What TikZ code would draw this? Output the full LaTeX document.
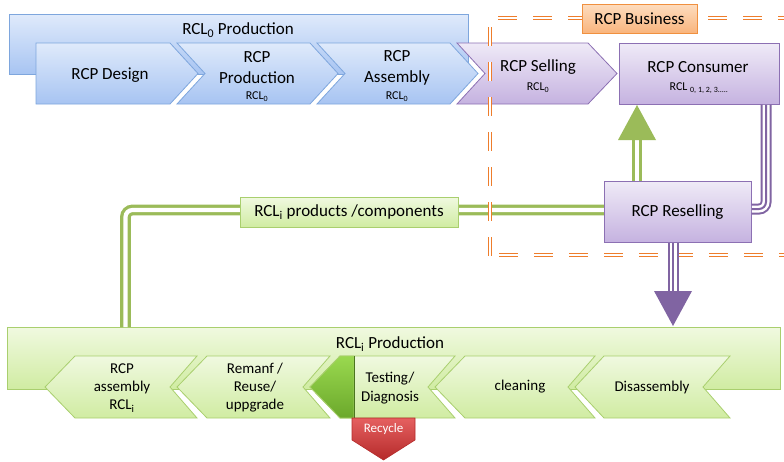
\documentclass[tikz,border=0pt]{standalone}
\usepackage{fontspec}
\setmainfont{Carlito}
\definecolor{blueT}{HTML}{DFEAFB}
\definecolor{blueBot}{HTML}{A7C4F2}
\definecolor{blueLine}{HTML}{7EA6DD}
\definecolor{purT}{HTML}{EFEAF7}
\definecolor{purBot}{HTML}{C5B2E0}
\definecolor{purLine}{HTML}{8C70B3}
\definecolor{purDark}{HTML}{8064A2}
\definecolor{grnT}{HTML}{F0F9E0}
\definecolor{grnBot}{HTML}{D0ECA2}
\definecolor{grnLine}{HTML}{A9CF6E}
\definecolor{grnDark}{HTML}{9BBB59}
\definecolor{wedgeT}{HTML}{9AD94F}
\definecolor{wedgeBot}{HTML}{6BA82B}
\definecolor{orT}{HTML}{FDDCBE}
\definecolor{orBot}{HTML}{F9B47C}
\definecolor{orLine}{HTML}{F0903F}
\definecolor{orDash}{HTML}{EE7D2C}
\definecolor{redT}{HTML}{E56060}
\definecolor{redBot}{HTML}{B52A2A}
\tikzset{
  bluebox/.style={draw=blueLine, line width=0.8pt, top color=blueT, bottom color=blueBot},
  purbox/.style={draw=purLine, line width=0.8pt, top color=purT, bottom color=purBot},
  grnbox/.style={draw=grnLine, line width=0.8pt, top color=grnT, bottom color=grnBot},
  orbox/.style={draw=orLine, line width=0.8pt, top color=orT, bottom color=orBot},
  big/.style={font=\fontsize{17}{20}\selectfont, inner sep=0pt, align=center},
  mid/.style={font=\fontsize{15}{17.5}\selectfont, inner sep=0pt, align=center},
  small/.style={font=\fontsize{12}{14}\selectfont, inner sep=0pt},
  odash/.style={draw=orDash, line width=1.1pt, double=white, double distance=2pt, dash pattern=on 19pt off 16pt},
  gline/.style={draw=grnDark, line width=3.3pt, double=white, double distance=4.2pt},
  plineA/.style={draw=purDark, line width=11pt},
  plineB/.style={draw=white, line width=7pt},
  plineC/.style={draw=purDark, line width=2pt},
}
\begin{document}
\begin{tikzpicture}[x=1pt,y=-1pt]
\useasboundingbox (0,0) rectangle (784,461);

% ---------- RCL0 production ----------
\node[bluebox, minimum width=459pt, minimum height=60pt, anchor=north west, inner sep=0pt] (rcl0box) at (9,14) {};
\node[big] (rcl0t) at (238,30) {RCL\textsubscript{0} Production};

\path[bluebox] (36,43) -- (170,43) -- (198,73.5) -- (170,104) -- (36,104) -- cycle;
\node[big] (design) at (110,75) {RCP Design};

\path[bluebox] (177,43) -- (310,43) -- (338,73.5) -- (310,104) -- (177,104) -- (205,73.5) -- cycle;
\node[big] (prod) at (257,67.5) {RCP\\[1pt]Production};
\node[small] (prodsub) at (257,97) {RCL\textsubscript{0}};

\path[bluebox] (317,43) -- (450,43) -- (478,73.5) -- (450,104) -- (317,104) -- (345,73.5) -- cycle;
\node[big] (assem) at (397,67.5) {RCP\\[1pt]Assembly};
\node[small] (assemsub) at (397,97) {RCL\textsubscript{0}};

\path[purbox] (457,43) -- (588,43) -- (617,73.5) -- (588,104) -- (457,104) -- (485,73.5) -- cycle;
\node[big] (sell) at (538,67) {RCP Selling};
\node[small] (sellsub) at (538,88) {RCL\textsubscript{0}};

\node[purbox, minimum width=160pt, minimum height=61pt, anchor=north west, inner sep=0pt] (cons) at (619,43) {};
\node[big] (const) at (698,67) {RCP Consumer};
\node[small] (conssub) at (699,88) {RCL \textsubscript{0, 1, 2, 3.....}};

% ---------- green connector ----------
\node[purbox, minimum width=147pt, minimum height=61pt, anchor=north west, inner sep=0pt] (resell) at (604,181) {};
\coordinate (gx) at (125.5,0);
\coordinate (gy) at (0,210);
\node[grnbox, minimum width=773pt, minimum height=62pt, anchor=north west, inner sep=0pt] (rcli) at (7,327) {};
\draw[gline, rounded corners=7pt] (rcli.north -| gx) |- (resell.west |- gy);

% ---------- orange business frame ----------
\coordinate (o1) at (490,27);
\coordinate (o2) at (490,256);
\coordinate (o3) at (498,18);
\coordinate (o4) at (784,18);
\coordinate (o5) at (499,255);
\coordinate (o6) at (784,255);
\draw[odash] (o1) -- (o2);
\draw[odash] (o3) -- (o4);
\draw[odash] (o5) -- (o6);
\node[orbox, minimum width=115pt, minimum height=29pt, anchor=north west, inner sep=0pt] (biz) at (582,4) {};
\node[big] (bizt) at (639.5,19) {RCP Business};

% ---------- products label ----------
\node[grnbox, minimum width=218pt, minimum height=30pt, inner sep=0pt] (prodlab) at (349,212) {};
\node[big] (prodlabt) at (349,212) {RCL\textsubscript{i} products /components};

% ---------- reselling ----------
\node[purbox, minimum width=147pt, minimum height=61pt, anchor=north west, inner sep=0pt] (resell2) at (604,181) {};
\node[big] (resellt) at (677.5,212) {RCP Reselling};

% green up arrow
\coordinate (gax) at (637,140);
\draw[gline] (resell2.north -| gax) -- (gax);
\coordinate (gh1) at (618,140);
\coordinate (gh2) at (656,140);
\coordinate (gh3) at (637,105);
\fill[grnDark] (gh1) -- (gh2) -- (gh3) -- cycle;

% purple connector consumer -> reselling
\coordinate (px) at (766,0);
\coordinate (py) at (0,209);
\draw[plineA, rounded corners=7pt] (cons.south -| px) |- (resell2.east |- py);
\draw[plineB, rounded corners=7pt] (cons.south -| px) |- (resell2.east |- py);
\draw[plineC, rounded corners=7pt] (cons.south -| px) |- (resell2.east |- py);

% purple down arrow
\coordinate (pax) at (673,292);
\draw[plineA] (resell2.south -| pax) -- (pax);
\draw[plineB] (resell2.south -| pax) -- (pax);
\draw[plineC] (resell2.south -| pax) -- (pax);
\coordinate (ph1) at (654,291);
\coordinate (ph2) at (692,291);
\coordinate (ph3) at (673,326);
\fill[purDark] (ph1) -- (ph2) -- (ph3) -- cycle;

% ---------- RCLi production ----------
\node[big] (rclit) at (390,344) {RCL\textsubscript{i} Production};

\path[grnbox] (45,387) -- (75,356) -- (197,356) -- (170,387) -- (197,418) -- (75,418) -- cycle;
\node[mid] (asm) at (122,388) {RCP\\[0.5pt]assembly\\[0.5pt]RCL\textsubscript{i}};

\path[grnbox] (177,387) -- (207,356) -- (330,356) -- (303,387) -- (330,418) -- (207,418) -- cycle;
\node[mid] (reman) at (255,388) {Remanf /\\[0.5pt]Reuse/\\[0.5pt]uppgrade};

\path[grnbox] (310,387) -- (340,356) -- (455,356) -- (428,387) -- (455,418) -- (340,418) -- cycle;
\path[draw=grnLine, line width=0.8pt, top color=wedgeT, bottom color=wedgeBot] (310,387) -- (340,356) -- (354,356) -- (354,418) -- (340,418) -- cycle;
\draw[wedgeBot!70!black, line width=0.8pt] (354,356) -- (354,418);
\node[mid] (test) at (390,388) {Testing/\\[1pt]Diagnosis};

\path[grnbox] (435,387) -- (465,356) -- (595,356) -- (568,387) -- (595,418) -- (465,418) -- cycle;
\node[mid] (clean) at (520,387) {cleaning};

\path[grnbox] (575,387) -- (604,356) -- (730,356) -- (703,387) -- (730,418) -- (604,418) -- cycle;
\node[mid] (disas) at (652,387) {Disassembly};

% recycle
\path[draw=redBot, line width=0.6pt, top color=redT, bottom color=redBot] (352,418) -- (415,418) -- (415,440) -- (383.5,460) -- (352,440) -- cycle;
\node[font=\fontsize{13}{15}\selectfont, text=white, inner sep=0pt] (rec) at (383.5,429) {Recycle};
\end{tikzpicture}
\end{document}
